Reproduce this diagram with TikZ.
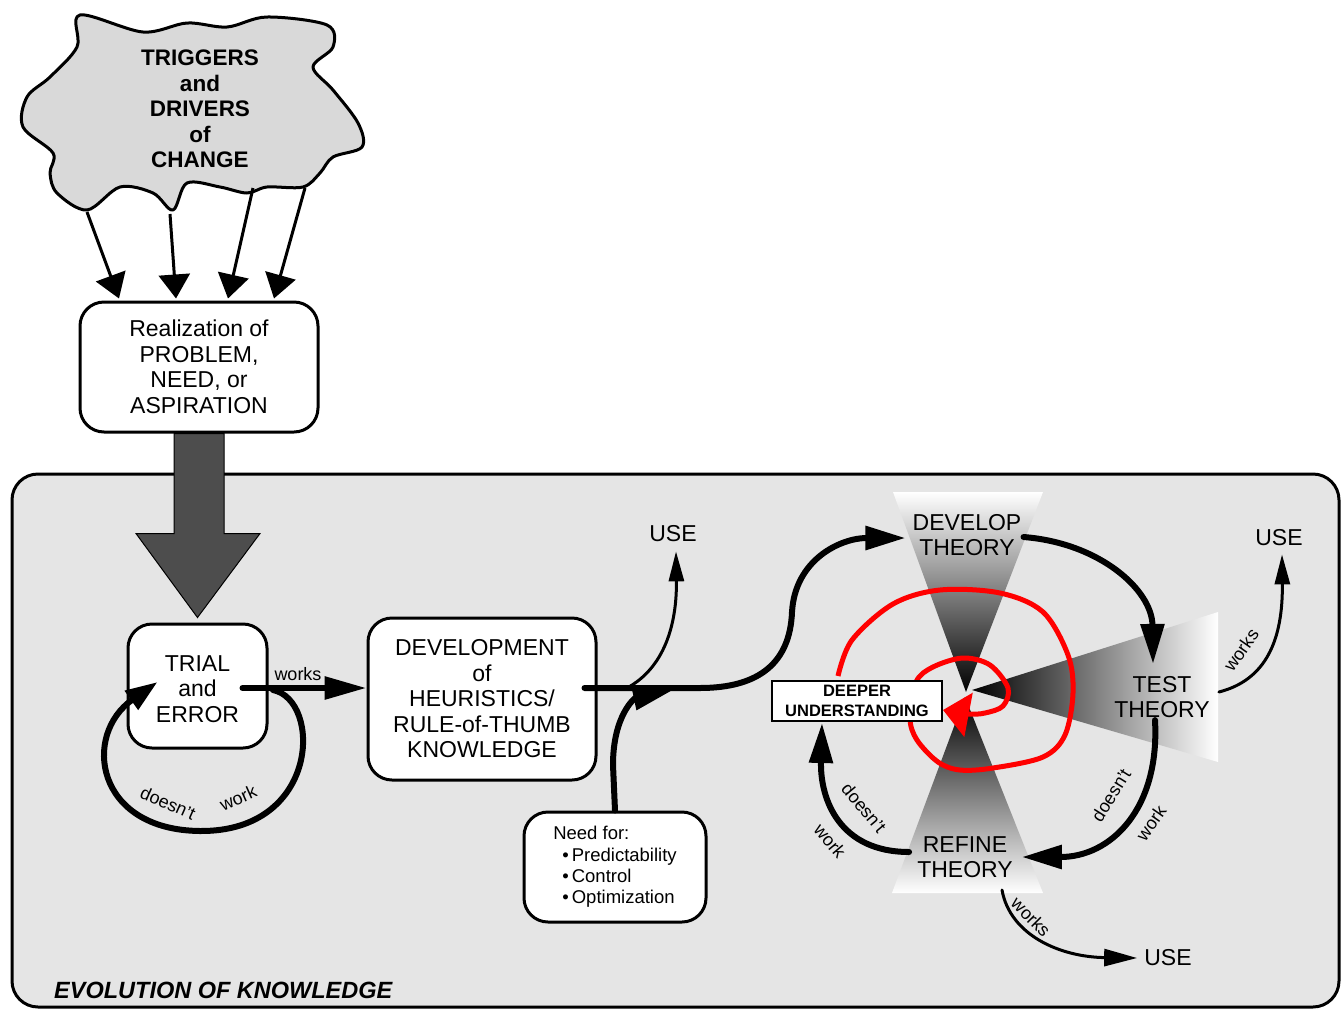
\documentclass[tikz,border=0pt]{standalone}
\usepackage{fontspec}
\setmainfont{Liberation Sans}
\usetikzlibrary{arrows.meta,calc}
\definecolor{cloudgray}{HTML}{D9D9D9}
\definecolor{panelgray}{HTML}{E5E5E5}
\definecolor{arrowgray}{HTML}{4D4D4D}
\begin{document}
\begin{tikzpicture}[x=1pt,y=-1pt,
  big/.style={font=\fontsize{23}{25.5}\selectfont},
  small/.style={font=\fontsize{18}{21}\selectfont, inner sep=0pt},
  roundbox/.style={draw, line width=3pt, fill=white, rounded corners=24pt, align=center, inner sep=0pt, big},
  thickline/.style={line width=6pt, line cap=round},
  thinline/.style={line width=3pt, line cap=round},
  medline/.style={line width=3pt},
  cloudhead/.style={-{Triangle[length=24pt,width=31pt]}},
  bighead/.style={-{Triangle[length=40pt,width=23pt]}},
  loophead/.style={-{Triangle[length=32pt,width=22pt]}},
  thinhead/.style={-{Triangle[length=30pt,width=15pt]}},
  redhead/.style={-{Triangle[length=26pt,width=44pt]}},
  usetext/.style={big, inner sep=2pt},
]
\useasboundingbox (0,0) rectangle (1342,1010);

% ---------- cloud ----------
\draw[line width=3pt, fill=cloudgray, line join=round]
  plot[smooth cycle, tension=0.55] coordinates {
  (80,15) (143,32) (187,23) (227,27) (267,17) (327,25) (333,47) (313,67)
  (333,90) (358,123) (362,147) (333,157) (320,173) (303,187) (267,187)
  (247,193) (220,187) (187,183) (173,210) (153,193) (120,187) (87,210)
  (57,193) (50,173) (53,153) (23,127) (27,97) (50,77) (77,47)};
\node[font=\bfseries\fontsize{22.5}{25.5}\selectfont, align=center] (cloud) at (200,109)
  {TRIGGERS\\and\\DRIVERS\\of\\CHANGE};

% ---------- realization ----------
\node[roundbox, minimum width=238pt, minimum height=130pt] (real) at (199,367)
  {Realization of\\PROBLEM,\\NEED, or\\ASPIRATION};

\coordinate (s1) at (87,212);
\coordinate (s2) at (170,214);
\coordinate (s3) at (253,188);
\coordinate (s4) at (305,188);
\draw[medline, cloudhead] (s1) -- ([xshift=-80pt,yshift=2pt]real.north);
\draw[medline, cloudhead] (s2) -- ([xshift=-23pt,yshift=2pt]real.north);
\draw[medline, cloudhead] (s3) -- ([xshift=29pt,yshift=2pt]real.north);
\draw[medline, cloudhead] (s4) -- ([xshift=75pt,yshift=2pt]real.north);

% ---------- panel ----------
\draw[line width=3pt, fill=panelgray, rounded corners=26pt] (12,474) rectangle (1339,1007);
\node[font=\bfseries\itshape\fontsize{23.5}{26}\selectfont, anchor=west, inner sep=0pt] (title) at (54,990)
  {EVOLUTION OF KNOWLEDGE};

% ---------- boxes ----------
\node[roundbox, minimum width=139pt, minimum height=124pt,
      label={[big, align=center, yshift=-3pt]center:{TRIAL\\and\\ERROR}}] (trial) at (197.5,686) {};
\node[roundbox, minimum width=228pt, minimum height=162pt] (dev) at (482,699)
  {DEVELOPMENT\\of\\HEURISTICS/\\RULE-of-THUMB\\KNOWLEDGE};
\node[roundbox, minimum width=182pt, minimum height=110pt, align=left,
      font=\fontsize{18.5}{21.3}\selectfont] (need) at (615,867)
  {Need for:\\\hspace*{9pt}\textbullet\,Predictability\\\hspace*{9pt}\textbullet\,Control\\\hspace*{9pt}\textbullet\,Optimization};

% big gray arrow
\draw[fill=arrowgray, line width=1pt, line join=miter]
  ($(real.south)+(-25,0)$) -- ($(real.south)+(25,0)$) -- ($(real.south)+(25,100)$)
  -- ($(real.south)+(61,100)$) -- ($(trial.north)+(0,-5)$) -- ($(real.south)+(-63,100)$)
  -- ($(real.south)+(-25,100)$) -- cycle;

% ---------- theory shadings ----------
\shade[top color=white, bottom color=black] (893,492) -- (1043,492) -- (966,692) -- cycle;
\shade[top color=black, bottom color=white] (965,697) -- (1043,893) -- (892,893) -- cycle;
\shade[left color=black, right color=white] (972,690) -- (1218,612) -- (1218,762) -- cycle;

% red spiral
\draw[red, line width=5pt, line join=round, redhead]
  plot[smooth, tension=0.55] coordinates {
  (838,676) (852,640) (893,604) (940,590) (1000,593) (1043,612) (1068,655)
  (1073,693) (1065,735) (1043,757) (993,768) (960,770) (938,762) (917,740)
  (910,718) (916,682) (933,667) (963,658) (990,665) (1008,688) (1003,706)
  (985,713) (968,714) (943,710)};

\node[draw, line width=2pt, fill=white, minimum width=170pt, minimum height=40pt, inner sep=0pt,
      align=center, font=\bfseries\fontsize{16.5}{19.5}\selectfont] (deeper) at (857,701)
  {DEEPER\\UNDERSTANDING};

\node[big, align=center, inner sep=2pt] (develop) at (967,535) {DEVELOP\\THEORY};
\node[big, align=center, inner sep=2pt] (test) at (1162,697) {TEST\\THEORY};
\node[big, align=center, inner sep=2pt] (refine) at (965,857) {REFINE\\THEORY};

\node[usetext] (use1) at (673,534) {USE};
\node[usetext] (use2) at (1279,538) {USE};
\node[usetext] (use3) at (1168,958) {USE};

% ---------- left connectors ----------
\coordinate (trialout) at ([xshift=45pt,yshift=-2pt]trial.center);
\draw[thickline, -{Triangle[length=42pt,width=22pt]}] (trialout) -- (dev.west |- trialout);
\node[small] (worksA) at (298,674) {works};

\coordinate (loopstart) at (273,690);
\coordinate (loopend) at ([xshift=-40pt,yshift=4pt]trial.center);
\draw[thickline, loophead] (loopstart) .. controls (322,700) and (320,832) .. (200,831)
  .. controls (95,830) and (82,735) .. (loopend);
\node[small, rotate=-24] (dn1) at (168,803) {doesn't};
\node[small, rotate=24] (wk1) at (238,798) {work};

% ---------- dev to develop theory ----------
\coordinate (devout) at ([xshift=-13pt,yshift=11pt]dev.east);
\coordinate (bend) at (700,688);
\coordinate (join) at (673,690);
\coordinate (split) at (627,688);
\draw[thickline, bighead] (devout) -- (bend)
  .. controls (760,688) and (790,662) .. (792,612)
  .. controls (795,560) and (840,538) .. ([xshift=-5pt,yshift=-3pt]develop.west);
\draw[thinline, thinhead] (split) .. controls (664,668) and (677,625) .. ([xshift=3pt,yshift=-7pt]use1.south);
\draw[thickline, bighead] (need.north) -- (613,765) .. controls (613,715) and (635,698) .. (join);

% ---------- theory cycle ----------
\draw[thickline, bighead] ([yshift=-2pt]develop.east) .. controls (1100,543) and (1152,590) .. ([xshift=-9pt,yshift=10pt]test.north);
\draw[thickline, bighead] ([xshift=-7pt]test.south) .. controls (1160,810) and (1110,857) .. ([xshift=7pt]refine.east);
\draw[thickline, bighead] ([xshift=-6pt,yshift=5pt]refine.west) .. controls (840,852) and (820,800) .. ([xshift=-35pt,yshift=-1pt]deeper.south);
\draw[thinline, thinhead] ([xshift=7pt,yshift=5pt]test.east) .. controls (1266,680) and (1283,640) .. ([xshift=3pt,yshift=-6pt]use2.south);
\draw[thinline, -{Triangle[length=33pt,width=17pt]}] ([xshift=37pt,yshift=-10pt]refine.south) .. controls (1010,935) and (1060,957) .. ([xshift=-5pt]use3.west);

\node[small, rotate=58] (dn2) at (1111,795) {doesn't};
\node[small, rotate=55] (wk2) at (1151,823) {work};
\node[small, rotate=-50] (dn3) at (864,808) {doesn't};
\node[small, rotate=-50] (wk3) at (830,841) {work};
\node[small, rotate=55] (wk4) at (1241,650) {works};
\node[small, rotate=-45] (wk5) at (1031,917) {works};
\end{tikzpicture}
\end{document}
